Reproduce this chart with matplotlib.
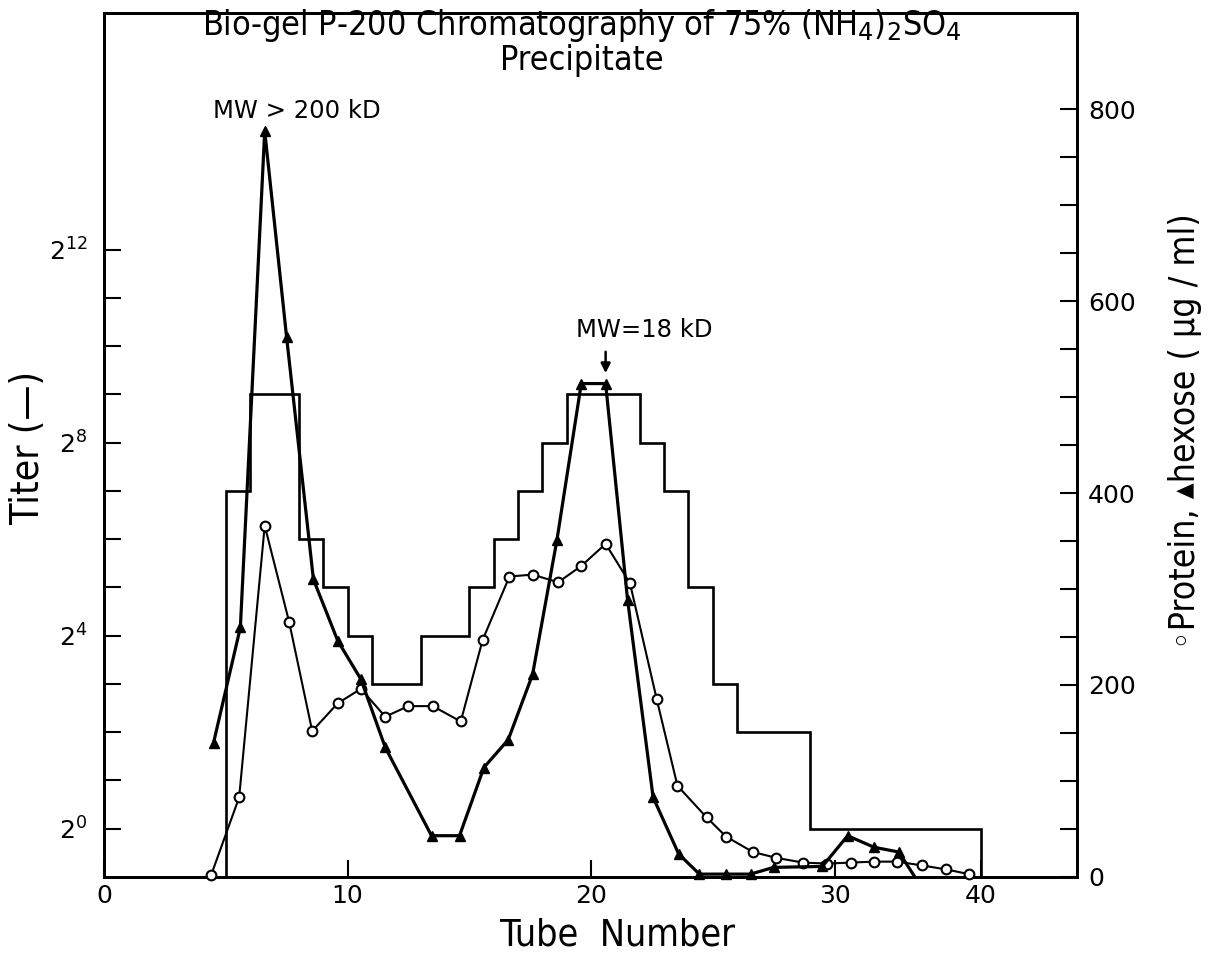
import matplotlib
matplotlib.use("Agg")
import matplotlib.pyplot as plt
import numpy as np

# titer histogram (log2 of titer per tube range)
tube_edges = [5, 6, 8, 9, 10, 11, 13, 15, 16, 17, 18, 19, 22, 23, 24, 25, 26, 29, 40]
titer_log2 = [7, 9, 6, 5, 4, 3, 4, 5, 6, 7, 8, 9, 8, 7, 5, 3, 2, 0]

# protein (open circles), ug/ml
protein_tube = [4.4, 5.55, 6.6, 7.6, 8.55, 9.6, 10.55, 11.55, 12.5, 13.5,
                14.65, 15.55, 16.65, 17.6, 18.65, 19.6, 20.6, 21.6, 22.7, 23.55,
                24.75, 25.55, 26.65, 27.6, 28.7, 29.7, 31.1, 32.7, 34.3, 36.0,
                37.6, 39.2]
protein = [2, 83, 366, 266, 152, 181, 196, 167, 178, 178,
           162, 247, 313, 315, 307, 324, 347, 306, 185, 95,
           62, 42, 26, 20, 15, 14, 15, 16, 16, 12,
           8, 3]

# hexose (filled triangles), ug/ml
hexose_tube = [4.5, 5.6, 6.6, 7.5, 8.6, 9.6, 10.55, 11.55, 13.45, 14.6,
               15.6, 16.6, 17.6, 18.6, 19.6, 20.6, 21.5, 22.55, 23.6, 24.45,
               25.55, 26.55, 27.5, 29.5, 30.9, 32.7, 34.4, 35.5]
hexose = [140, 260, 777, 562, 310, 246, 206, 135, 43, 43,
          114, 143, 211, 351, 514, 514, 289, 83, 24, 3,
          3, 3, 10, 11, 43, 31, 26, 0]

x_ticks = [0, 10, 20, 30, 40]
titer_ticks = [0, 4, 8, 12]
conc_ticks = [0, 200, 400, 600, 800]

cond = dict(family='DejaVu Sans', fontstretch='condensed')


# the original axis is squeezed past tube 30
def fwd(x):
    x = np.asarray(x, dtype=float)
    return np.where(x <= 30, x, 30 + (x - 30) * 0.6)


def inv(y):
    y = np.asarray(y, dtype=float)
    return np.where(y <= 30, y, 30 + (y - 30) / 0.6)


plt.rcParams['font.family'] = 'DejaVu Sans'

fig = plt.figure(figsize=(12.08, 9.57), dpi=100)
ax = fig.add_axes([0.0861, 0.0836, 0.8055, 0.9028])
ax.set_xscale('function', functions=(fwd, inv))
ax.set_yscale('log', base=2)
ax2 = ax.twinx()

ybot = 2 ** -1.0
ax.set_xlim(0, 46.6)
ax.set_ylim(ybot, 2 ** 16.9)
ax2.set_ylim(0, 900)

# titer steps
ax.stairs(2.0 ** np.array(titer_log2), tube_edges, baseline=ybot,
          color='black', lw=1.9)

# protein and hexose
ax2.plot(protein_tube, protein, '-o', color='black', lw=1.5, ms=7,
         mfc='white', mec='black', mew=1.5, clip_on=False, zorder=3)
ax2.plot(hexose_tube, hexose, '-', color='black', lw=2.3, zorder=4)
ax2.plot(hexose_tube[:-1], hexose[:-1], '^', color='black', ms=7.5,
         clip_on=False, zorder=5)

# ticks
ax.set_xticks(x_ticks)
ax.set_xticklabels([str(t) for t in x_ticks])
ax.set_xticks([], minor=True)
ax.set_yticks([2.0 ** p for p in titer_ticks])
ax.set_yticklabels(['$2^{%d}$' % p for p in titer_ticks])
ax.set_yticks([2.0 ** p for p in range(13)], minor=True)
ax.yaxis.set_minor_formatter(matplotlib.ticker.NullFormatter())
ax2.set_yticks(conc_ticks)
ax2.set_yticks(np.arange(0, 801, 50), minor=True)

for a in (ax, ax2):
    a.tick_params(which='both', direction='in', length=12, width=1.5,
                  labelsize=18)
    for s in a.spines.values():
        s.set_linewidth(2)
ax.tick_params(axis='x', pad=5)
ax.tick_params(axis='y', pad=12)
ax2.tick_params(axis='y', pad=8)

# text
fig.text(0.482, 0.973, 'Bio-gel P-200 Chromatography of 75% (NH$_4$)$_2$SO$_4$',
         ha='center', va='center', fontsize=24.5, **cond)
fig.text(0.482, 0.937, 'Precipitate', ha='center', va='center',
         fontsize=24.5, **cond)
fig.text(618 / 1208, 1 - 935 / 957, 'Tube  Number', ha='center', va='center',
         fontsize=27, **cond)
fig.text(28 / 1208, 1 - 447 / 957, 'Titer (\u2014)', ha='center', va='center',
         rotation=90, fontsize=28, **cond)
fig.text(1185 / 1208, 1 - 431 / 957,
         '\u25e6Protein, \u25b4hexose ( \u00b5g / ml)', ha='center',
         va='center', rotation=90, fontsize=25.5, **cond)

ax2.text(7.9, 798, 'MW > 200 kD', ha='center', va='center', fontsize=17.5)
ax2.text(22.2, 570, 'MW=18 kD', ha='center', va='center', fontsize=17.5)
ax2.annotate('', xy=(20.6, 522), xytext=(20.6, 550),
             arrowprops=dict(arrowstyle='-|>', color='black', lw=1.8,
                             mutation_scale=14))

fig.savefig('out.png', dpi=100)
